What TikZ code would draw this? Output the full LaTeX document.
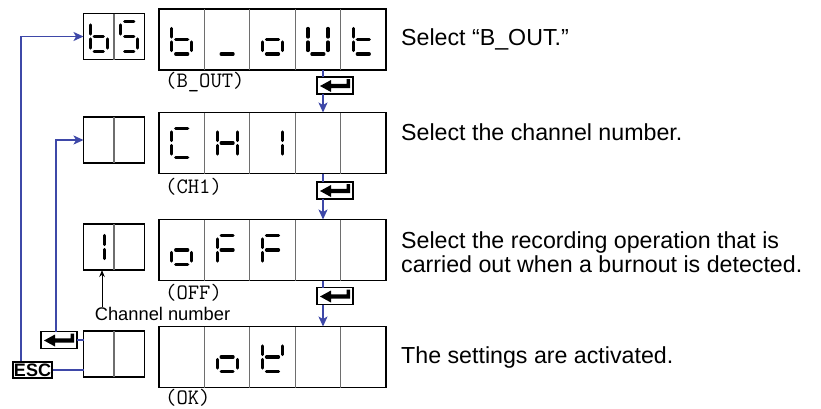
\documentclass[tikz,border=0pt]{standalone}
\usepackage{fontspec}
\setmainfont{Liberation Sans}
\usetikzlibrary{arrows.meta,calc}
\definecolor{flowblue}{RGB}{62,72,168}
\definecolor{divgray}{RGB}{110,110,110}
\tikzset{
 bigbox/.style={draw=black, line width=1.2pt, minimum width=227pt, minimum height=61pt, inner sep=0pt, outer sep=0pt},
 smallbox/.style={draw=black, line width=1.2pt, minimum width=61pt, minimum height=46pt, inner sep=0pt, outer sep=0pt},
 divider/.style={draw=divgray, line width=1.2pt},
 seg/.style={line width=3.2pt, line cap=round, black},
 keybox/.style={draw=black, line width=1.3pt, fill=white, minimum width=36pt, minimum height=17pt, inner sep=0pt, outer sep=0pt},
 flow/.style={draw=flowblue, line width=1.5pt},
 flowarrow/.style={flow, -{Stealth[length=10pt,width=9pt,inset=2.5pt]}},
 desc/.style={anchor=base west, inner sep=0pt, font=\fontsize{23.2}{24}\selectfont},
 code/.style={anchor=west, inner sep=0pt, font=\ttfamily\fontsize{22}{22}\selectfont},
}
\newcommand\sgA{\draw[seg] ({-\dw+4},{-\dh}) -- ({\dw-4},{-\dh});}
\newcommand\sgB{\draw[seg] (\dw,{-\dh+3.5}) -- (\dw,-2.5);}
\newcommand\sgC{\draw[seg] (\dw,2.5) -- (\dw,{\dh-3.5});}
\newcommand\sgD{\draw[seg] ({-\dw+4},\dh) -- ({\dw-4},\dh);}
\newcommand\sgE{\draw[seg] (-\dw,2.5) -- (-\dw,{\dh-3.5});}
\newcommand\sgF{\draw[seg] (-\dw,{-\dh+3.5}) -- (-\dw,-2.5);}
\newcommand\sgG{\draw[seg] ({-\dw+4},0) -- ({\dw-4},0);}
\newcommand\sevdigit[3]{\begin{scope}[shift={(#1,#2)}]#3\end{scope}}
\newcommand\bigdig[3]{\def\dw{10}\def\dh{14.5}\sevdigit{#1}{#2}{#3}}
\newcommand\smalldig[3]{\def\dw{8.5}\def\dh{15}\sevdigit{#1}{#2}{#3}}
\newcommand\enterkey[3]{%
 \node[keybox] (#1) at (#2,#3) {};
 \fill[black, shift={(#2,#3)}] (-15,0.5) -- (-4,-5.5) -- (-4,-1.7) -- (11.5,-1.7) -- (11.5,-6.5) -- (15,-6.5) -- (15,2.7) -- (-4,2.7) -- (-4,6.5) -- cycle;}
\begin{document}
\begin{tikzpicture}[x=1pt,y=-1pt]
\useasboundingbox (0,0) rectangle (821,408);
% big boxes
\foreach \r/\y in {A/39.5,B/143,C/250,D/357} {
  \node[bigbox] (big\r) at (272.5,\y) {};
  \foreach \i in {1,...,4}
    \draw[divider] ($(big\r.north west)+(45.4*\i,0)$) -- ($(big\r.south west)+(45.4*\i,0)$);
}
% small boxes
\foreach \r/\y in {A/36.5,B/140,C/247,D/354} {
  \node[smallbox] (s\r) at (114,\y) {};
  \draw[divider] (s\r.north) -- (s\r.south);
}
% row 1 digits
\smalldig{98.75}{36.5}{\sgC\sgD\sgE\sgF\sgG}
\smalldig{129.25}{36.5}{\sgA\sgC\sgD\sgF\sgG}
\bigdig{181.7}{39.5}{\sgC\sgD\sgE\sgF\sgG}
\bigdig{227.1}{39.5}{\sgD}
\bigdig{272.5}{39.5}{\sgC\sgD\sgE\sgG}
\bigdig{317.9}{39.5}{\sgB\sgC\sgD\sgE\sgF}
\bigdig{363.3}{39.5}{\sgD\sgE\sgF\sgG}
% row 2 digits
\bigdig{181.7}{143}{\sgA\sgD\sgE\sgF}
\bigdig{227.1}{143}{\sgB\sgC\sgE\sgF\sgG}
\bigdig{272.5}{143}{\sgB\sgC}
% row 3 digits
\smalldig{96}{247}{\sgB\sgC}
\bigdig{181.7}{250}{\sgC\sgD\sgE\sgG}
\bigdig{227.1}{250}{\sgA\sgE\sgF\sgG}
\bigdig{272.5}{250}{\sgA\sgE\sgF\sgG}
% row 4 digits
\bigdig{227.1}{357}{\sgC\sgD\sgE\sgG}
\bigdig{272.5}{357}{\sgB\sgD\sgE\sgF\sgG}
% code labels
\node[code] (lA) at (165,82) {(B\_OUT)};
\node[code] (lB) at (165,187) {(CH1)};
\node[code] (lC) at (165,293) {(OFF)};
\node[code] (lD) at (165,398) {(OK)};
% descriptions
\node[desc] (tA) at (401,45) {Select “B\_OUT.”};
\node[desc] (tB) at (401,140) {Select the channel number.};
\node[desc] (tC1) at (401,248) {Select the recording operation that is};
\node[desc] (tC2) at (401,272) {carried out when a burnout is detected.};
\node[desc] (tD) at (401,363) {The settings are activated.};
% enter keys
\enterkey{kA}{335}{85.5}
\enterkey{kB}{335}{190.5}
\enterkey{kC}{335}{296}
\enterkey{kL}{59}{340}
% ESC key
\node[draw=black, line width=1.2pt, inner sep=0pt, minimum width=39pt, minimum height=16pt, font=\bfseries\fontsize{18}{18}\selectfont] (esc) at (32.5,370) {ESC};
% channel number
\node[inner sep=0pt, anchor=base, font=\fontsize{18.3}{20}\selectfont] (chn) at (162.5,320) {Channel number};
\coordinate (chx) at (102,0);
\draw[line width=1pt, -{Stealth[length=7pt,width=5.5pt]}] (chn.north -| chx) -- (sC.south -| chx);
% flow connectors
\coordinate (fx) at (323,0);
\draw[flow] (bigA.south -| fx) -- (kA.north -| fx);
\draw[flowarrow] (kA.south -| fx) -- (bigB.north -| fx);
\draw[flow] (bigB.south -| fx) -- (kB.north -| fx);
\draw[flowarrow] (kB.south -| fx) -- (bigC.north -| fx);
\draw[flow] (bigC.south -| fx) -- (kC.north -| fx);
\draw[flowarrow] (kC.south -| fx) -- (bigD.north -| fx);
\coordinate (ex) at (21,0);
\coordinate (kx) at (56,0);
\draw[flow] (esc.east) -- (esc.east -| sD.west);
\draw[flowarrow] (esc.north -| ex) |- (sA.west);
\draw[flow] (kL.east) -- (kL.east -| sD.west);
\draw[flowarrow] (kL.north -| kx) |- (sB.west);
\end{tikzpicture}
\end{document}
